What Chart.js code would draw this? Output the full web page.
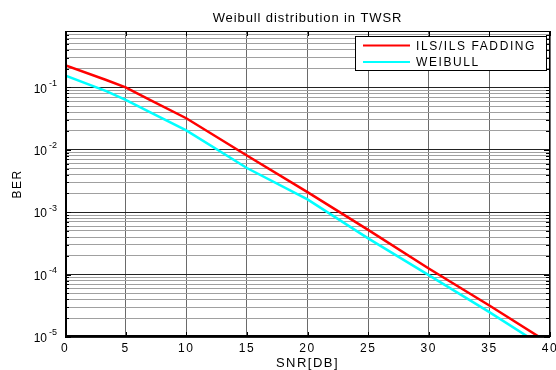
<!DOCTYPE html>
<html>
<head>
<meta charset="utf-8">
<script src="https://cdn.jsdelivr.net/npm/chart.js@4.4.0/dist/chart.umd.min.js"></script>
<style>
  html, body { margin: 0; padding: 0; background: #fff; }
</style>
</head>
<body>
<canvas id="berChart" width="556" height="370"></canvas>
<script>
// values
const snr = [0, 3.4, 5, 7, 10, 15, 20, 25, 30, 35, 40];
const berFading = [0.227, 0.131, 0.100, 0.063, 0.032, 0.0081, 0.0021, 5.2e-4, 1.25e-4, 3.2e-5, 7.8e-6];
const berWeibull = [0.155, 0.087, 0.063, 0.040, 0.0205, 0.0051, 0.0016, 3.8e-4, 9.8e-5, 2.5e-5, 6.0e-6];

const seriesNames = ['ILS/ILS FADDING', 'WEIBULL'];
const seriesColors = ['#ff0000', '#00ffff'];
const chartTitle = 'Weibull distribution in TWSR';

const xTicks = [0, 5, 10, 15, 20, 25, 30, 35, 40];
const yDecades = [-5, -4, -3, -2, -1];
const yMin = 1e-5, yMax = 0.8;

const FONT = '"Liberation Sans", Arial, sans-serif';

function toPoints(xs, ys) {
  return xs.map((x, i) => ({ x: x, y: ys[i] }));
}

// every 1..9 x 10^k inside the axis range, for the log grid
function logGridValues() {
  const vals = [];
  for (let k = yDecades[0]; k <= 0; k++) {
    for (let m = 1; m <= 9; m++) {
      const v = m * Math.pow(10, k);
      if (v >= yMin * 0.999 && v <= yMax * 1.001) vals.push(v);
    }
  }
  return vals;
}

function isDecade(v) {
  const l = Math.log10(v);
  return Math.abs(l - Math.round(l)) < 1e-6;
}

// MATLAB-like frame, title, inner ticks, exponent labels and legend
const matlabAxes = {
  id: 'matlabAxes',
  beforeDraw(chart) {
    chart.ctx.letterSpacing = '1.5px';
  },
  afterDatasetsDraw(chart) {
    const ctx = chart.ctx;
    const a = chart.chartArea;
    const xs = chart.scales.x, ys = chart.scales.y;
    ctx.save();

    // title over the plot box
    ctx.fillStyle = '#000';
    ctx.font = '13px ' + FONT;
    ctx.letterSpacing = '0.9px';
    ctx.textAlign = 'center';
    ctx.textBaseline = 'alphabetic';
    ctx.fillText(chartTitle, (a.left + a.right) / 2, 21.5);
    ctx.letterSpacing = '0px';

    // frame
    ctx.strokeStyle = '#000';
    ctx.lineWidth = 1;
    ctx.strokeRect(a.left + 0.5, a.top + 0.5, a.right - a.left - 1, a.bottom - a.top - 1);
    ctx.lineWidth = 2;
    ctx.beginPath();
    ctx.moveTo(a.left + 1, a.top);
    ctx.lineTo(a.left + 1, a.bottom - 1);
    ctx.lineTo(a.right, a.bottom - 1);
    ctx.stroke();

    // inner tick marks
    ctx.lineWidth = 1;
    ctx.beginPath();
    logGridValues().forEach(v => {
      const y = Math.round(ys.getPixelForValue(v)) + 0.5;
      const len = isDecade(v) ? 5 : 3;
      ctx.moveTo(a.left, y); ctx.lineTo(a.left + len + 1, y);
      ctx.moveTo(a.right, y); ctx.lineTo(a.right - len - 1, y);
    });
    xTicks.forEach(t => {
      const x = Math.round(xs.getPixelForValue(t)) + 0.5;
      ctx.moveTo(x, a.bottom); ctx.lineTo(x, a.bottom - 5);
      ctx.moveTo(x, a.top); ctx.lineTo(x, a.top + 5);
    });
    ctx.stroke();

    // y tick labels as 10^k
    ctx.fillStyle = '#000';
    yDecades.forEach(k => {
      const y = ys.getPixelForValue(Math.pow(10, k));
      ctx.font = '12px ' + FONT;
      ctx.textAlign = 'right';
      ctx.textBaseline = 'middle';
      ctx.fillText('10', 47, y + 2);
      ctx.font = '9px ' + FONT;
      ctx.textAlign = 'left';
      ctx.fillText(String(k), 49, y - 4);
    });

    // legend box
    const lx = 355, ly = 36, lw = 192, lh = 35;
    ctx.fillStyle = '#fff';
    ctx.fillRect(lx, ly, lw, lh);
    ctx.strokeStyle = '#000';
    ctx.lineWidth = 1;
    ctx.strokeRect(lx + 0.5, ly + 0.5, lw - 1, lh - 1);
    ctx.font = '12px ' + FONT;
    ctx.letterSpacing = '1.6px';
    ctx.textAlign = 'left';
    ctx.textBaseline = 'middle';
    seriesNames.forEach((name, i) => {
      const y = ly + 9.5 + i * 16.5;
      ctx.strokeStyle = seriesColors[i];
      ctx.lineWidth = 2;
      ctx.beginPath();
      ctx.moveTo(lx + 8, y);
      ctx.lineTo(lx + 55, y);
      ctx.stroke();
      ctx.fillStyle = '#000';
      ctx.fillText(name, lx + 61, y + 1);
    });
    ctx.restore();
  }
};

const ctx = document.getElementById('berChart').getContext('2d');

new Chart(ctx, {
  type: 'line',
  data: {
    datasets: [
      {
        label: seriesNames[0],
        data: toPoints(snr, berFading),
        borderColor: seriesColors[0],
        borderWidth: 2.5,
        pointRadius: 0,
        tension: 0
      },
      {
        label: seriesNames[1],
        data: toPoints(snr, berWeibull),
        borderColor: seriesColors[1],
        borderWidth: 2.5,
        pointRadius: 0,
        tension: 0
      }
    ]
  },
  options: {
    responsive: false,
    animation: false,
    devicePixelRatio: 1,
    layout: { padding: { left: 0, right: 6, top: 31, bottom: 0 } },
    plugins: {
      legend: { display: false },
      tooltip: { enabled: false },
      title: { display: false }
    },
    scales: {
      x: {
        type: 'linear',
        min: 0,
        max: 40,
        afterBuildTicks: scale => { scale.ticks = xTicks.map(v => ({ value: v })); },
        afterFit: scale => {
          scale.height = 33;
          // let the last label run off the edge, as in the original
          scale.paddingLeft = 0;
          scale.paddingRight = 0;
        },
        ticks: { color: '#000', font: { family: FONT, size: 12 }, padding: 4, maxRotation: 0 },
        grid: { color: '#6a6a6a', lineWidth: 1, drawTicks: false },
        border: { display: false },
        title: {
          display: true,
          text: 'SNR[DB]',
          color: '#000',
          font: { family: FONT, size: 13 },
          padding: { top: 0, bottom: -1 }
        }
      },
      y: {
        type: 'logarithmic',
        min: yMin,
        max: yMax,
        afterBuildTicks: scale => { scale.ticks = logGridValues().map(v => ({ value: v })); },
        afterFit: scale => { scale.width = 65; },
        ticks: { display: false },
        grid: {
          color: c => (c.tick && isDecade(c.tick.value)) ? '#222' : '#a0a0a0',
          lineWidth: 1,
          drawTicks: false
        },
        border: { display: false },
        title: {
          display: true,
          text: 'BER',
          color: '#000',
          font: { family: FONT, size: 12 },
          padding: { top: 10, bottom: 0 }
        }
      }
    }
  },
  plugins: [matlabAxes]
});
</script>
</body>
</html>
